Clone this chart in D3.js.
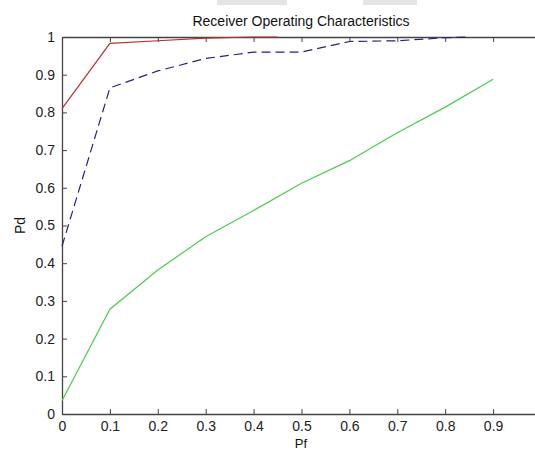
<!DOCTYPE html>
<html>
<head>
<meta charset="utf-8">
<script src="https://cdn.jsdelivr.net/npm/d3@7"></script>
<style>
  body { margin: 0; background: #fff; }
  svg { display: block; font-family: "Liberation Sans", Arial, sans-serif; }
</style>
</head>
<body>
<svg></svg>
<script>
// ROC curve data (Pf vs Pd)
const redPf = [0, 0.1, 0.2, 0.3, 0.4, 0.45];
const redPd = [0.81, 0.983, 0.99, 0.997, 1.0, 1.0];

const bluePf = [0, 0.1, 0.2, 0.3, 0.4, 0.5, 0.6, 0.7, 0.8, 0.85];
const bluePd = [0.445, 0.865, 0.91, 0.943, 0.96, 0.96, 0.988, 0.99, 0.998, 1.0];

const greenPf = [0, 0.1, 0.2, 0.3, 0.4, 0.5, 0.6, 0.7, 0.8, 0.9];
const greenPd = [0.035, 0.278, 0.382, 0.47, 0.54, 0.612, 0.672, 0.746, 0.814, 0.888];

const xTicks = [0, 0.1, 0.2, 0.3, 0.4, 0.5, 0.6, 0.7, 0.8, 0.9];
const yTicks = [0, 0.1, 0.2, 0.3, 0.4, 0.5, 0.6, 0.7, 0.8, 0.9, 1];

const width = 535;
const height = 450;
const margin = { top: 37, left: 62, bottom: 36 };

const svg = d3.select("svg").attr("width", width).attr("height", height);

// faint grey bars at the very top of the screenshot
svg.append("rect").attr("x", 217).attr("y", 0).attr("width", 70).attr("height", 5).attr("fill", "#e4e4e4");
svg.append("rect").attr("x", 363).attr("y", 0).attr("width", 54).attr("height", 5).attr("fill", "#e4e4e4");

const x = d3.scaleLinear().domain([0, 1]).range([margin.left, 541]);
const y = d3.scaleLinear().domain([0, 1]).range([height - margin.bottom, margin.top]);

// bottom axis, ticks pointing inward
const xAxis = svg.append("g")
  .attr("transform", `translate(0,${y(0)})`)
  .call(d3.axisBottom(x).tickValues(xTicks).tickSizeInner(-5).tickSizeOuter(0).tickPadding(7).tickFormat(String));

// top axis (box), ticks pointing down
const topAxis = svg.append("g")
  .attr("transform", `translate(0,${y(1)})`)
  .call(d3.axisTop(x).tickValues(xTicks).tickSizeInner(-5).tickSizeOuter(0).tickFormat(""));

// left axis, ticks pointing right
const yAxis = svg.append("g")
  .attr("transform", `translate(${x(0)},0)`)
  .call(d3.axisLeft(y).tickValues(yTicks).tickSizeInner(-5).tickSizeOuter(0).tickPadding(7).tickFormat(String));

[xAxis, topAxis, yAxis].forEach(g => {
  g.selectAll(".domain").attr("stroke", "#444").attr("stroke-width", 1.3);
  g.selectAll(".tick line").attr("stroke", "#444");
  g.selectAll("text").attr("fill", "#222").style("font-size", "14px");
});

const line = d3.line().x(d => x(d[0])).y(d => y(d[1]));

function drawSeries(pf, pd, color, dash) {
  const pts = pf.map((v, i) => [v, pd[i]]);
  svg.append("path")
    .datum(pts)
    .attr("fill", "none")
    .attr("stroke", color)
    .attr("stroke-width", 1.2)
    .attr("stroke-dasharray", dash)
    .attr("d", line);
}

drawSeries(greenPf, greenPd, "#4ccb4c", null);
drawSeries(bluePf, bluePd, "#232380", "9,5");
drawSeries(redPf, redPd, "#b83030", null);

// title and axis labels
svg.append("text")
  .attr("x", 301).attr("y", 26)
  .attr("text-anchor", "middle")
  .style("font-size", "14px").attr("fill", "#111")
  .text("Receiver Operating Characteristics");

svg.append("text")
  .attr("x", 301).attr("y", 448)
  .attr("text-anchor", "middle")
  .style("font-size", "13px").attr("fill", "#111")
  .text("Pf");

svg.append("text")
  .attr("transform", `translate(25,${y(0.5)}) rotate(-90)`)
  .attr("text-anchor", "middle")
  .style("font-size", "14px").attr("fill", "#111")
  .text("Pd");
</script>
</body>
</html>
